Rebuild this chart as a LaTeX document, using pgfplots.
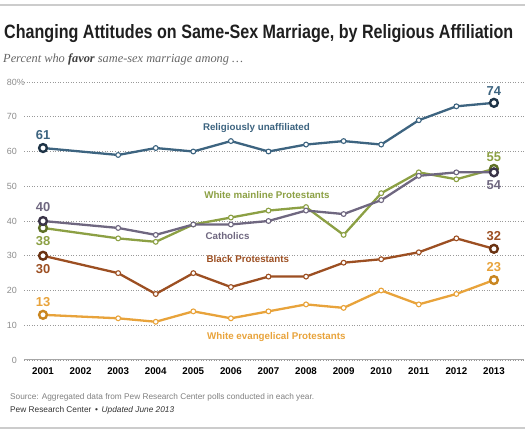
\documentclass[border=0pt]{standalone}
\usepackage{pgfplots}
\pgfplotsset{compat=1.18}
\usepackage{graphicx}
\usepackage{fontspec}
\setmainfont{Liberation Sans}
\newfontfamily\serifit{Liberation Serif}
\definecolor{unaff}{HTML}{3D6480}
\definecolor{unaffD}{HTML}{1E3447}
\definecolor{mainl}{HTML}{8CA044}
\definecolor{mainlD}{HTML}{5E7026}
\definecolor{cath}{HTML}{6F6780}
\definecolor{cathD}{HTML}{3A3448}
\definecolor{blackp}{HTML}{9C4F22}
\definecolor{blackpD}{HTML}{6B3312}
\definecolor{evang}{HTML}{E8A33B}
\definecolor{evangD}{HTML}{C98620}
\newcommand\valfont{\bfseries\fontsize{13}{13}\selectfont}
\newcommand\lblfont{\bfseries\fontsize{9.8}{10}\selectfont}
\pgfplotsset{
  ser/.style={line width=2.3bp, mark=*, mark size=2.4bp, mark options={fill=white, draw=#1, line width=1.1bp, solid}, color=#1},
  endm/.style={only marks, mark=*, mark size=3.9bp, mark options={fill=white, draw=#1, line width=2.4bp}},
}
\begin{document}
\begin{tikzpicture}
\path[use as bounding box] (0bp,0bp) rectangle (525bp,432bp);
\draw[black!20, line width=1.2bp] (0bp,427bp) -- (525bp,427bp);
\draw[black!20, line width=1.2bp] (0bp,4bp) -- (525bp,4bp);
\node[anchor=base west, inner sep=0pt, text=black!88] at (4bp,393bp)
  {\resizebox{509bp}{14bp}{\bfseries Changing Attitudes on Same-Sex Marriage, by Religious Affiliation}};
\node[anchor=base west, inner sep=0pt, text=black!60] at (3bp,369bp)
  {\resizebox{240bp}{!}{\serifit\itshape\fontsize{12.5}{13}\selectfont Percent who {\bfseries\color{black!75}favor} same-sex marriage among \dots}};
\node[anchor=base west, inner sep=0pt, text=black!50] at (10bp,33bp)
  {\resizebox{304bp}{!}{\fontsize{8}{9}\selectfont Source: Aggregated data from Pew Research Center polls conducted in each year.}};
\node[anchor=base west, inner sep=0pt, text=black!80] at (10bp,19bp)
  {\resizebox{164bp}{!}{\fontsize{8.5}{9}\selectfont Pew Research Center \,\textbullet\, \itshape Updated June 2013}};
\begin{axis}[
  at={(24bp,72bp)}, anchor=south west,
  scale only axis, width=500bp, height=278bp,
  xmin=2000.494, xmax=2013.8, ymin=0, ymax=80,
  axis x line*=bottom,
  x axis line style={black!35, line width=1bp},
  y axis line style={draw=none},
  major tick length=0pt,
  xtick={2001,2002,2003,2004,2005,2006,2007,2008,2009,2010,2011,2012,2013},
  xticklabels={2001,2002,2003,2004,2005,2006,2007,2008,2009,2010,2011,2012,2013},
  xticklabel style={font=\bfseries\fontsize{9.8}{10}\selectfont, text=black, inner sep=0pt, anchor=north, yshift=-7bp},
  ytick={0,10,20,30,40,50,60,70,80},
  yticklabels={0,10,20,30,40,50,60,70,80\rlap{\%}},
  yticklabel style={font=\fontsize{9}{10}\selectfont, text=black!45, inner sep=0pt, anchor=east, xshift=-7bp},
  ymajorgrids,
  grid style={black!40, line width=0.6bp, dash pattern=on 0.8bp off 1.8bp},
  clip=false,
]
\addplot[ser=unaff] coordinates {(2001,61) (2003,59) (2004,61) (2005,60) (2006,63) (2007,60) (2008,62) (2009,63) (2010,62) (2011,69) (2012,73) (2013,74)};
\addplot[ser=blackp] coordinates {(2001,30) (2003,25) (2004,19) (2005,25) (2006,21) (2007,24) (2008,24) (2009,28) (2010,29) (2011,31) (2012,35) (2013,32)};
\addplot[ser=evang] coordinates {(2001,13) (2003,12) (2004,11) (2005,14) (2006,12) (2007,14) (2008,16) (2009,15) (2010,20) (2011,16) (2012,19) (2013,23)};
\addplot[ser=mainl] coordinates {(2001,38) (2003,35) (2004,34) (2005,39) (2006,41) (2007,43) (2008,44) (2009,36) (2010,48) (2011,54) (2012,52) (2013,55)};
\addplot[ser=cath] coordinates {(2001,40) (2003,38) (2004,36) (2005,39) (2006,39) (2007,40) (2008,43) (2009,42) (2010,46) (2011,53) (2012,54) (2013,54)};
\addplot[endm=unaffD] coordinates {(2001,61) (2013,74)};
\addplot[endm=blackpD] coordinates {(2001,30) (2013,32)};
\addplot[endm=evangD] coordinates {(2001,13) (2013,23)};
\addplot[endm=mainlD] coordinates {(2001,38) (2013,55)};
\addplot[endm=cathD] coordinates {(2001,40) (2013,54)};
\node[text=unaff, font=\valfont] at (axis cs:2001,64.7) {61};
\node[text=unaff, font=\valfont] at (axis cs:2013,77.4) {74};
\node[text=cath, font=\valfont] at (axis cs:2001,44.0) {40};
\node[text=cath, font=\valfont] at (axis cs:2013,50.4) {54};
\node[text=mainl, font=\valfont] at (axis cs:2001,34.2) {38};
\node[text=mainl, font=\valfont] at (axis cs:2013,58.4) {55};
\node[text=blackp, font=\valfont] at (axis cs:2001,26.2) {30};
\node[text=blackp, font=\valfont] at (axis cs:2013,35.7) {32};
\node[text=evang, font=\valfont] at (axis cs:2001,16.7) {13};
\node[text=evang, font=\valfont] at (axis cs:2013,26.8) {23};
\node[text=unaff, font=\lblfont] at (axis cs:2006.68,66.8) {Religiously unaffiliated};
\node[text=mainl, font=\lblfont] at (axis cs:2006.96,47.5) {White mainline Protestants};
\node[text=cath, font=\lblfont] at (axis cs:2005.91,35.7) {Catholics};
\node[text=blackp, font=\lblfont] at (axis cs:2006.45,29.1) {Black Protestants};
\node[text=evang, font=\lblfont] at (axis cs:2007.21,6.6) {White evangelical Protestants};
\end{axis}
\end{tikzpicture}
\end{document}
